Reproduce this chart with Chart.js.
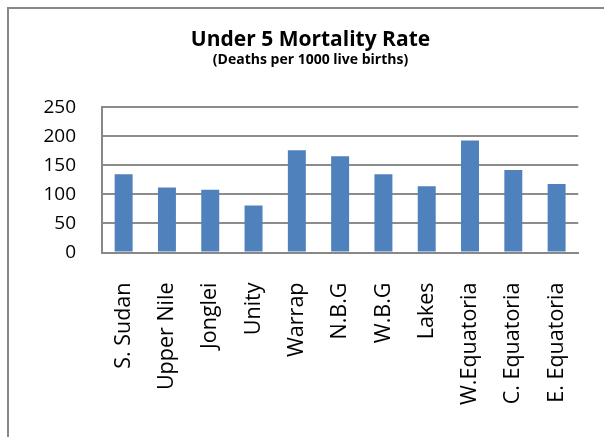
<!DOCTYPE html>
<html>
<head>
<meta charset="utf-8">
<script src="https://cdn.jsdelivr.net/npm/chart.js@4.4.1/dist/chart.umd.min.js"></script>
<style>
  html, body { margin: 0; padding: 0; background: #fff; overflow: hidden; width: 604px; height: 437px; }
  #frame { position: absolute; left: 7px; top: 7px; width: 620px; height: 450px;
           border-left: 2px solid #888; border-top: 2px solid #888; box-sizing: border-box; }
  #wrap { position: absolute; left: 9px; top: 9px; width: 605px; height: 428px; }
</style>
</head>
<body>
<div id="frame"></div>
<div id="wrap"><canvas id="c" width="605" height="428"></canvas></div>
<script>
const categories = ["S. Sudan", "Upper Nile", "Jonglei", "Unity", "Warrap", "N.B.G", "W.B.G", "Lakes", "W.Equatoria", "C. Equatoria", "E. Equatoria"];
const mortalityValues = [135, 112, 108, 81, 176, 166, 135, 114, 193, 142, 118];
const yTicks = [0, 50, 100, 150, 200, 250];
const titleText = "Under 5 Mortality Rate";
const subtitleText = "(Deaths per 1000 live births)";

new Chart(document.getElementById('c'), {
  type: 'bar',
  data: {
    labels: categories,
    datasets: [{
      data: mortalityValues,
      backgroundColor: '#4F81BD',
      borderWidth: 0,
      categoryPercentage: 1.0,
      barPercentage: 0.415
    }]
  },
  options: {
    responsive: false,
    animation: false,
    layout: { padding: { left: 33, right: 35, top: 0, bottom: 2 } },
    plugins: {
      legend: { display: false },
      tooltip: { enabled: false },
      title: {
        display: true,
        text: titleText,
        color: '#000',
        font: { family: 'Open Sans', size: 21, weight: 'bold', lineHeight: 1.0 },
        padding: { top: 21, bottom: 0 }
      },
      subtitle: {
        display: true,
        text: subtitleText,
        color: '#000',
        font: { family: 'Open Sans', size: 14, weight: 'bold', lineHeight: 1.1 },
        padding: { top: 1, bottom: 40 }
      }
    },
    scales: {
      x: {
        grid: { display: false, drawTicks: false },
        border: { display: true, color: '#888', width: 2 },
        ticks: {
          color: '#000',
          font: { family: 'Open Sans', size: 21.5 },
          minRotation: 90,
          maxRotation: 90,
          padding: 30,
          autoSkip: false
        }
      },
      y: {
        min: 0,
        max: 250,
        afterBuildTicks: (axis) => { axis.ticks = yTicks.map(v => ({ value: v })); },
        afterFit: (axis) => { axis.width = 60; },
        grid: { color: '#8c8c8c', lineWidth: 2, drawTicks: false },
        border: { display: true, color: '#888', width: 2 },
        ticks: {
          color: '#000',
          font: { family: 'Open Sans', size: 19 },
          padding: 26,
          autoSkip: false
        }
      }
    }
  }
});
</script>
</body>
</html>
